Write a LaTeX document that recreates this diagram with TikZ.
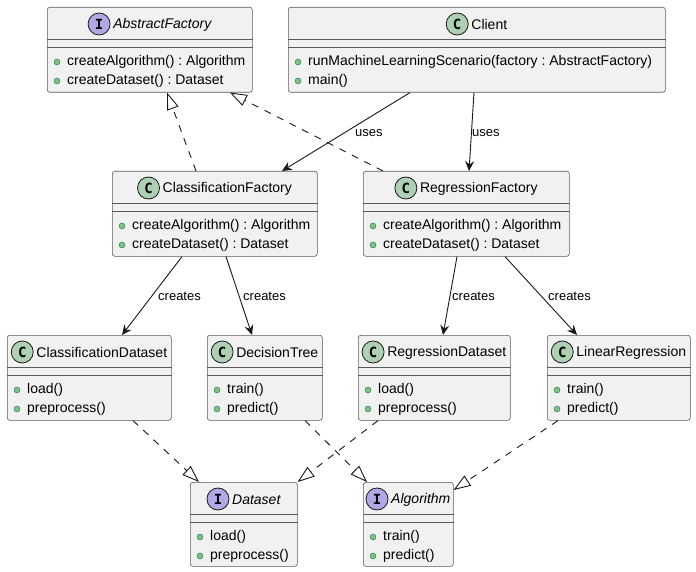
\documentclass[tikz,border=0pt]{standalone}
\usepackage{fontspec}
\setmainfont{Liberation Sans}
\newfontfamily\iconfont{DejaVu Sans Mono}
\usetikzlibrary{arrows.meta}
\frenchspacing

\definecolor{boxfill}{HTML}{F1F1F1}
\definecolor{ink}{HTML}{181818}
\definecolor{frame}{HTML}{5A5A5A}
\definecolor{classgreen}{HTML}{ADD1B2}
\definecolor{ifacepurple}{HTML}{B4A7E5}
\definecolor{bulletfill}{HTML}{84BE84}
\definecolor{bulletdraw}{HTML}{038048}

\tikzset{
  box/.style={draw=frame, line width=0.6pt, fill=boxfill, rounded corners=2.5pt, inner sep=0pt},
  sepline/.style={draw=frame, line width=0.6pt},
  titletext/.style={inner sep=0pt, font=\fontsize{14}{16}\selectfont},
  membertext/.style={inner sep=0pt, anchor=west, font=\fontsize{14}{16}\selectfont},
  cicon/.style={circle, draw=ink, line width=0.8pt, fill=classgreen, minimum size=22pt, inner sep=0pt,
    font=\iconfont\bfseries\fontsize{14}{14}\selectfont},
  iicon/.style={cicon, fill=ifacepurple},
  bullet/.style={circle, draw=bulletdraw, line width=0.4pt, fill=bulletfill, minimum size=6pt, inner sep=0pt},
  lbl/.style={inner sep=0pt, anchor=west, font=\fontsize{13}{15}\selectfont},
  uses/.style={draw=ink, line width=0.9pt, -{Stealth[length=10pt, width=9pt, inset=3.5pt]}},
  impl/.style={draw=ink, line width=0.9pt, dash pattern=on 7pt off 7pt,
    -{Triangle[open, length=17pt, width=12pt, fill=white]}},
}

% class box: id, left, top, width, height, icon style, icon letter, title
\newcommand\umlbox[8]{%
  \node[box, minimum width=#4pt, minimum height=#5pt, anchor=north west] (#1) at (#2,#3) {};
  \draw[sepline] ([yshift=-32pt]#1.north west) -- ([yshift=-32pt]#1.north east);
  \draw[sepline] ([yshift=-40pt]#1.north west) -- ([yshift=-40pt]#1.north east);
  \node[titletext] (#1-t) at ([yshift=-17.5pt]#1.north) {\hspace*{25pt}#8};
  \node[#6] (#1-i) at ([xshift=11pt, yshift=-17pt]#1.north -| #1-t.west) {#7};
}
% member row: id, offset from top, text
\newcommand\umlmember[3]{%
  \node[bullet] at ([xshift=10pt, yshift=-#2pt]#1.north west) {};
  \node[membertext] at ([xshift=20pt, yshift=-#2pt]#1.north west) {#3};
}

\begin{document}
\begin{tikzpicture}[x=1pt, y=-1pt]
\fill[white] (0,0) rectangle (696,572);
\useasboundingbox (0,0) rectangle (696,572);

% factories
\umlbox{af}{47}{7}{205}{85}{iicon}{I}{\itshape AbstractFactory}
\umlmember{af}{55}{createAlgorithm() : Algorithm}
\umlmember{af}{74}{createDataset() : Dataset}

\umlbox{client}{288}{7}{377}{85}{cicon}{C}{Client}
\umlmember{client}{55}{runMachineLearningScenario(factory : AbstractFactory)}
\umlmember{client}{74}{main()}

\umlbox{cf}{112}{171}{205}{85}{cicon}{C}{ClassificationFactory}
\umlmember{cf}{55}{createAlgorithm() : Algorithm}
\umlmember{cf}{74}{createDataset() : Dataset}

\umlbox{rf}{363}{171}{206}{85}{cicon}{C}{RegressionFactory}
\umlmember{rf}{55}{createAlgorithm() : Algorithm}
\umlmember{rf}{74}{createDataset() : Dataset}

% products
\umlbox{cd}{7}{335}{164}{85}{cicon}{C}{ClassificationDataset}
\umlmember{cd}{55}{load()}
\umlmember{cd}{74}{preprocess()}

\umlbox{dt}{207}{335}{115}{85}{cicon}{C}{DecisionTree}
\umlmember{dt}{55}{train()}
\umlmember{dt}{74}{predict()}

\umlbox{rd}{358}{335}{152}{85}{cicon}{C}{RegressionDataset}
\umlmember{rd}{55}{load()}
\umlmember{rd}{74}{preprocess()}

\umlbox{lr}{547}{335}{143}{85}{cicon}{C}{LinearRegression}
\umlmember{lr}{55}{train()}
\umlmember{lr}{74}{predict()}

% product interfaces
\umlbox{ds}{190}{482}{107}{84}{iicon}{I}{\itshape Dataset}
\umlmember{ds}{55}{load()}
\umlmember{ds}{74}{preprocess()}

\umlbox{alg}{363}{482}{90}{84}{iicon}{I}{\itshape Algorithm}
\umlmember{alg}{55}{train()}
\umlmember{alg}{74}{predict()}

% realizations
\draw[impl] ([xshift=84pt]cf.north west) -- ([xshift=120pt]af.south west);
\draw[impl] ([xshift=20pt]rf.north west) -- ([xshift=183pt]af.south west);
\draw[impl] ([xshift=126pt]cd.south west) -- ([xshift=9pt]ds.north west);
\draw[impl] ([xshift=20pt]rd.south west) -- (ds.north east);
\draw[impl] ([xshift=98pt]dt.south west) -- ([xshift=4pt]alg.north west);
\draw[impl] ([xshift=11pt]lr.south west) -- ([yshift=-8pt]alg.north east);

% dependencies
\draw[uses] ([xshift=122pt]client.south west) -- ([xshift=170pt]cf.north west);
\draw[uses] ([xshift=186pt]client.south west) -- ([xshift=106pt]rf.north west);
\draw[uses] ([xshift=70pt]cf.south west) -- ([xshift=115pt]cd.north west);
\draw[uses] ([xshift=114pt]cf.south west) -- ([xshift=45pt]dt.north west);
\draw[uses] ([xshift=94pt]rf.south west) -- ([xshift=85pt]rd.north west);
\draw[uses] ([xshift=142pt]rf.south west) -- ([xshift=30pt]lr.north west);

% edge labels
\node[lbl] (l1) at (355,133) {uses};
\node[lbl] (l2) at (472,133) {uses};
\node[lbl] (l3) at (158,296) {creates};
\node[lbl] (l4) at (243,296) {creates};
\node[lbl] (l5) at (452,296) {creates};
\node[lbl] (l6) at (548,296) {creates};
\end{tikzpicture}
\end{document}
